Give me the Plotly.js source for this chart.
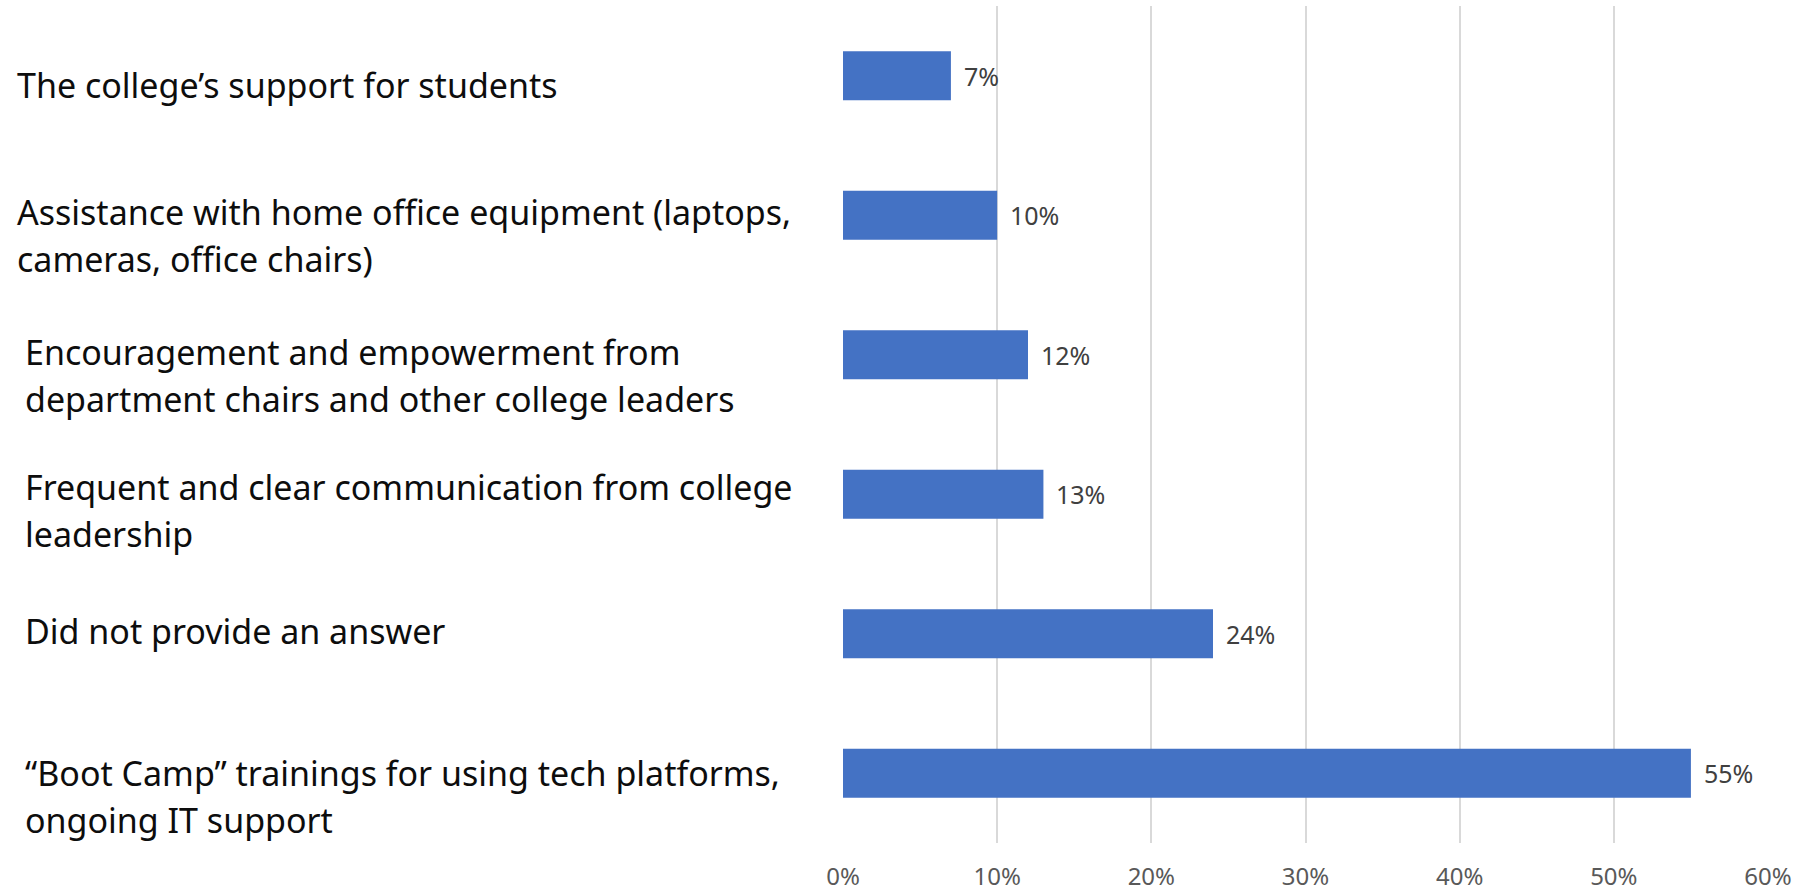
<!DOCTYPE html>
<html>
<head>
<meta charset="utf-8">
<script src="https://cdn.plot.ly/plotly-3.0.1.min.js"></script>
<style>html,body{margin:0;padding:0;background:#fff;}#chart{width:1800px;height:891px;}</style>
</head>
<body>
<div id="chart"></div>
<script>
const categories = [
  "The college’s support for students",
  "Assistance with home office equipment (laptops,<br>cameras, office chairs)",
  "Encouragement and empowerment from<br>department chairs and other college leaders",
  "Frequent and clear communication from college<br>leadership",
  "Did not provide an answer",
  "“Boot Camp” trainings for using tech platforms,<br>ongoing IT support"
];
const values = [7, 10, 12, 13, 24, 55];
const tickVals = [0, 10, 20, 30, 40, 50, 60];
const tickText = ["0%", "10%", "20%", "30%", "40%", "50%", "60%"];

// label placement (pixels)
const labelIndent = [15, 15, 23, 23, 23, 23];
const labelShift = [-9, 3, 3, 7, 3, 0];

const plotLeft = 843, plotRight = 1768;
const plotW = plotRight - plotLeft;
const lineStep = 47;

const trace = {
  type: 'bar',
  orientation: 'h',
  x: values,
  y: categories,
  width: 0.35,
  marker: {color: '#4472C4'},
  hoverinfo: 'x+y'
};

const annotations = [];
categories.forEach((c, i) => {
  c.split('<br>').forEach((line, k) => {
    annotations.push({
      xref: 'paper', yref: 'y',
      x: (labelIndent[i] - plotLeft) / plotW,
      y: c,
      xanchor: 'left', yanchor: 'middle', align: 'left',
      yshift: labelShift[i] - k * lineStep,
      text: line,
      showarrow: false,
      font: {family: 'Noto Sans', size: 34, color: '#0d0d0d'}
    });
  });
  annotations.push({
    xref: 'x', yref: 'y',
    x: values[i], y: c,
    xanchor: 'left', yanchor: 'middle',
    xshift: 11,
    text: values[i] + '%',
    showarrow: false,
    font: {family: 'Noto Sans', size: 25, color: '#404040'}
  });
});

const layout = {
  width: 1800, height: 891,
  margin: {l: plotLeft, r: 1800 - plotRight, t: 6, b: 48, pad: 0},
  paper_bgcolor: '#fff', plot_bgcolor: '#fff',
  showlegend: false,
  xaxis: {
    range: [0, 60],
    tickvals: tickVals, ticktext: tickText,
    showgrid: true, gridcolor: '#d9d9d9', gridwidth: 2,
    zeroline: false, showline: false,
    ticks: '', ticklabelstandoff: 17,
    tickfont: {family: 'Noto Sans', size: 24, color: '#595959'},
    fixedrange: true
  },
  yaxis: {
    autorange: 'reversed',
    showticklabels: false, showgrid: false, zeroline: false, showline: false,
    ticks: '', fixedrange: true
  },
  annotations: annotations
};

Plotly.newPlot('chart', [trace], layout, {displayModeBar: false, staticPlot: true});
</script>
</body>
</html>
